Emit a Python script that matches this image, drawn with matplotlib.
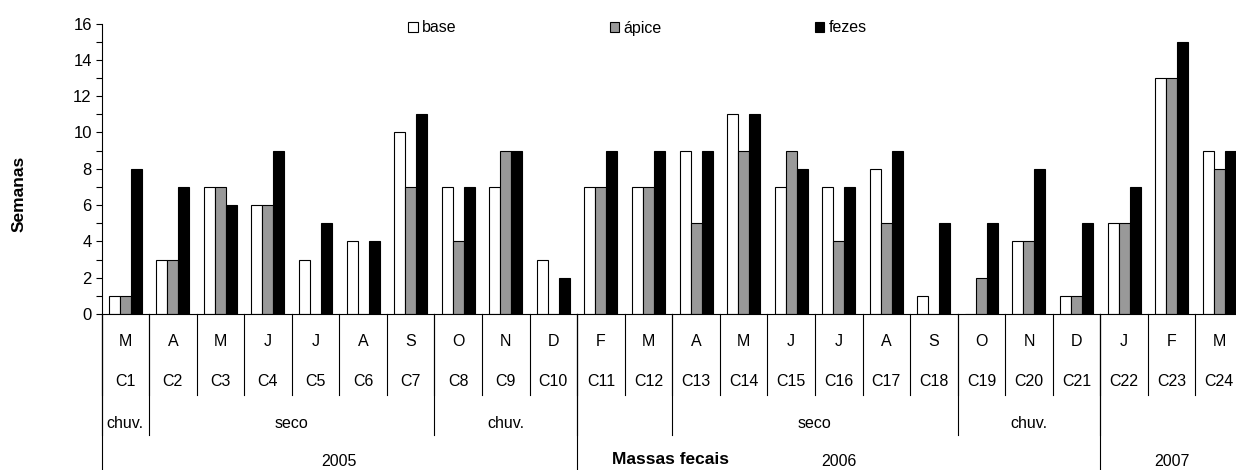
import matplotlib

matplotlib.use("Agg")

import matplotlib.pyplot as plt
import numpy as np
from matplotlib.patches import Patch
from matplotlib.ticker import MultipleLocator

plt.rcParams["font.family"] = ["Liberation Sans", "DejaVu Sans"]

# dados (semanas por massa fecal)
categorias = [f"C{i}" for i in range(1, 25)]
meses = ["M", "A", "M", "J", "J", "A", "S", "O", "N", "D",
         "F", "M", "A", "M", "J", "J", "A", "S", "O", "N", "D",
         "J", "F", "M"]
base = [1, 3, 7, 6, 3, 4, 10, 7, 7, 3, 7, 7, 9, 11, 7, 7, 8, 1, 0, 4, 1, 5, 13, 9]
apice = [1, 3, 7, 6, 0, 0, 7, 4, 9, 0, 7, 7, 5, 9, 9, 4, 5, 0, 2, 4, 1, 5, 13, 8]
fezes = [8, 7, 6, 9, 5, 4, 11, 7, 9, 2, 9, 9, 9, 11, 8, 7, 9, 5, 5, 8, 5, 7, 15, 9]

estacoes = ["chuv.", "seco", "chuv.", "", "seco", "chuv.", ""]
estacoes_n = [1, 6, 3, 2, 6, 3, 3]
anos = ["2005", "2006", "2007"]
anos_n = [10, 11, 3]

W, H = 1236, 470
fig = plt.figure(figsize=(W / 100, H / 100), dpi=100)

# eixo passa um pouco da borda direita, como no original
x0, x1 = 101.5, 1243
y_top, y_zero = 23.5, 314
ax = fig.add_axes([x0 / W, 1 - y_zero / H, (x1 - x0) / W, (y_zero - y_top) / H])
ax_h = y_zero - y_top

x = np.arange(len(categorias)) + 0.5
larg = 0.231
ax.bar(x - larg, base, larg, color="white", edgecolor="black", linewidth=0.8)
ax.bar(x, apice, larg, color="#999999", edgecolor="black", linewidth=0.8)
ax.bar(x + larg, fezes, larg, color="black", edgecolor="black", linewidth=0.8)

ax.set_xlim(0, len(categorias))
ax.set_ylim(0, 16)
ax.yaxis.set_major_locator(MultipleLocator(2))
ax.yaxis.set_minor_locator(MultipleLocator(1))
ax.tick_params(axis="y", which="both", direction="out", length=4, width=0.8,
               labelsize=12, pad=3)
ax.tick_params(axis="x", bottom=False, labelbottom=False)
ax.spines["top"].set_visible(False)
ax.spines["right"].set_visible(False)
for s in ("left", "bottom"):
    ax.spines[s].set_linewidth(0.8)


def abaixo(px):
    # distância em pixels abaixo da linha do zero -> fração do eixo
    return -px / ax_h


trans = ax.get_xaxis_transform()


def linha(xpos, px):
    ax.plot([xpos, xpos], [0, abaixo(px)], transform=trans, color="black",
            linewidth=0.8, clip_on=False)


def rotulo(xpos, px, txt, **kw):
    ax.text(xpos, abaixo(px), txt, transform=trans, ha="center", va="center",
            fontsize=11.5, clip_on=False, **kw)


# linhas de mês / coleta
for i in range(len(categorias) + 1):
    linha(i, 81)
for i, (m, c) in enumerate(zip(meses, categorias)):
    rotulo(i + 0.5, 27, m)
    rotulo(i + 0.5, 68, c)

# estações
lim = np.concatenate([[0], np.cumsum(estacoes_n)])
for b in lim:
    linha(b, 121)
for e, a, b in zip(estacoes, lim[:-1], lim[1:]):
    rotulo((a + b) / 2, 109, e)

# anos
lim = np.concatenate([[0], np.cumsum(anos_n)])
for b in lim:
    linha(b, 170)
for e, a, b in zip(anos, lim[:-1], lim[1:]):
    rotulo((a + b) / 2, 148, e)

fig.text(19 / W, 1 - 194 / H, "Semanas", rotation=90, ha="center", va="center",
         fontsize=12.5, fontweight="bold")
fig.text(670 / W, 1 - 459 / H, "Massas fecais", ha="center", va="center",
         fontsize=12.5, fontweight="bold")

handles = [
    Patch(facecolor="white", edgecolor="black", linewidth=0.8, label="base"),
    Patch(facecolor="#999999", edgecolor="black", linewidth=0.8, label="ápice"),
    Patch(facecolor="black", edgecolor="black", linewidth=0.8, label="fezes"),
]
fig.legend(handles=handles, loc="center left", bbox_to_anchor=(408 / W, 1 - 28 / H),
           ncol=3, frameon=False, fontsize=11.5, handlelength=0.6, handleheight=0.6,
           handletextpad=0.25, columnspacing=9.6, borderpad=0, borderaxespad=0)

fig.savefig("out.png", dpi=100)
